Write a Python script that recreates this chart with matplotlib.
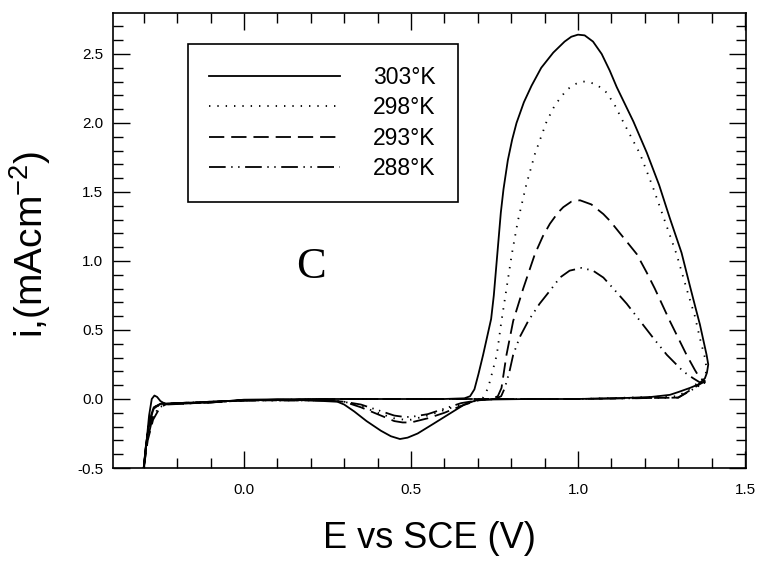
import numpy as np
import matplotlib
matplotlib.use('Agg')
from matplotlib import pyplot as plt
from matplotlib.ticker import MultipleLocator

plt.rcParams['font.family'] = ['Liberation Sans', 'DejaVu Sans']
plt.rcParams['mathtext.fontset'] = 'custom'
plt.rcParams['mathtext.rm'] = 'Liberation Sans'
plt.rcParams['lines.scale_dashes'] = False

labels = ['303\u00b0K', '298\u00b0K', '293\u00b0K', '288\u00b0K']

# anodic sweep, -0.3 V -> 1.39 V
e_fwd_303 = [-0.300, -0.292, -0.284, -0.276, -0.268, -0.260, -0.250, -0.236, -0.200, -0.150,
             -0.100, -0.050, 0.000, 0.200, 0.400, 0.600, 0.660, 0.677, 0.690, 0.702, 0.716,
             0.728, 0.740, 0.748, 0.755, 0.762, 0.769, 0.777, 0.790, 0.803, 0.816, 0.838,
             0.861, 0.890, 0.926, 0.960, 0.980, 1.000, 1.020, 1.045, 1.071, 1.095, 1.116,
             1.140, 1.166, 1.206, 1.243, 1.275, 1.310, 1.335, 1.352, 1.365, 1.375, 1.385,
             1.390, 1.386, 1.380]
i_fwd_303 = [-0.50, -0.32, -0.12, 0.00, 0.025, 0.015, -0.015, -0.035, -0.035, -0.03,
             -0.025, -0.015, -0.005, 0.0, 0.0, 0.0, 0.005, 0.02, 0.07, 0.18, 0.32,
             0.45, 0.58, 0.75, 0.95, 1.15, 1.35, 1.52, 1.73, 1.88, 2.00, 2.15,
             2.27, 2.40, 2.51, 2.59, 2.625, 2.64, 2.635, 2.59, 2.50, 2.38, 2.26,
             2.14, 2.01, 1.785, 1.55, 1.31, 1.06, 0.82, 0.66, 0.54, 0.43, 0.32,
             0.25, 0.19, 0.15]
# cathodic sweep back to -0.3 V
e_rev_303 = [1.380, 1.360, 1.335, 1.300, 1.275, 1.220, 1.150, 1.000, 0.850, 0.700, 0.660,
             0.620, 0.567, 0.520, 0.490, 0.467, 0.440, 0.410, 0.367, 0.330, 0.300, 0.280,
             0.200, 0.100, 0.000, -0.100, -0.200, -0.250, -0.270, -0.282, -0.290, -0.296, -0.300]
i_rev_303 = [0.150, 0.105, 0.080, 0.050, 0.030, 0.015, 0.008, 0.0, 0.0, -0.005, -0.04,
             -0.10, -0.18, -0.25, -0.28, -0.29, -0.27, -0.23, -0.16, -0.09, -0.04, -0.02,
             -0.01, -0.005, -0.01, -0.02, -0.03, -0.035, -0.06, -0.15, -0.28, -0.40, -0.50]

e_fwd_298 = [-0.300, -0.290, -0.280, -0.268, -0.250, -0.200, -0.100, 0.000, 0.300, 0.600,
             0.700, 0.716, 0.731, 0.742, 0.757, 0.770, 0.786, 0.802, 0.820, 0.845, 0.871,
             0.906, 0.931, 0.966, 0.990, 1.010, 1.026, 1.055, 1.086, 1.110, 1.135, 1.186,
             1.225, 1.260, 1.295, 1.325, 1.350, 1.365, 1.380, 1.385, 1.380]
i_fwd_298 = [-0.50, -0.30, -0.12, -0.05, -0.04, -0.035, -0.025, -0.01, 0.0, 0.0,
             0.0, 0.01, 0.08, 0.18, 0.32, 0.55, 0.80, 1.05, 1.29, 1.55, 1.775,
             2.01, 2.13, 2.24, 2.28, 2.30, 2.30, 2.28, 2.22, 2.13, 2.01, 1.775,
             1.53, 1.29, 1.05, 0.80, 0.60, 0.44, 0.30, 0.22, 0.15]
e_rev_298 = [1.380, 1.300, 1.000, 0.750, 0.700, 0.650, 0.600, 0.550, 0.500, 0.480, 0.450,
             0.400, 0.350, 0.300, 0.250, 0.000, -0.100, -0.200, -0.250, -0.270, -0.282,
             -0.292, -0.300]
i_rev_298 = [0.15, 0.02, 0.0, 0.0, -0.01, -0.04, -0.08, -0.12, -0.15, -0.15, -0.14,
             -0.10, -0.05, -0.02, -0.01, -0.01, -0.02, -0.03, -0.035, -0.06, -0.15,
             -0.30, -0.50]

e_fwd_293 = [-0.300, -0.288, -0.272, -0.251, -0.230, -0.100, 0.000, 0.300, 0.600, 0.740,
             0.760, 0.771, 0.786, 0.806, 0.836, 0.871, 0.895, 0.916, 0.940, 0.956, 0.980,
             1.006, 1.040, 1.076, 1.096, 1.136, 1.176, 1.205, 1.230, 1.275, 1.325, 1.350,
             1.365, 1.380]
i_fwd_293 = [-0.50, -0.30, -0.15, -0.06, -0.035, -0.025, -0.01, 0.0, 0.0, 0.0,
             0.02, 0.08, 0.32, 0.565, 0.80, 1.05, 1.18, 1.27, 1.35, 1.39, 1.43,
             1.44, 1.41, 1.34, 1.29, 1.17, 1.05, 0.92, 0.80, 0.565, 0.32, 0.21,
             0.15, 0.13]
e_rev_293 = [1.380, 1.300, 1.000, 0.750, 0.700, 0.650, 0.600, 0.550, 0.500, 0.475, 0.450,
             0.400, 0.350, 0.300, 0.250, 0.000, -0.100, -0.200, -0.250, -0.270, -0.284,
             -0.293, -0.300]
i_rev_293 = [0.13, 0.01, 0.0, 0.0, -0.01, -0.05, -0.10, -0.14, -0.17, -0.17, -0.16,
             -0.11, -0.06, -0.02, -0.01, -0.01, -0.02, -0.03, -0.035, -0.07, -0.18,
             -0.33, -0.50]

e_fwd_288 = [-0.300, -0.289, -0.274, -0.255, -0.230, -0.100, 0.000, 0.300, 0.600, 0.750,
             0.770, 0.781, 0.795, 0.806, 0.826, 0.851, 0.885, 0.921, 0.946, 0.975, 1.011,
             1.045, 1.076, 1.106, 1.146, 1.186, 1.226, 1.266, 1.315, 1.345, 1.365, 1.380]
i_fwd_288 = [-0.50, -0.30, -0.14, -0.06, -0.04, -0.025, -0.01, 0.0, 0.0, 0.0,
             0.02, 0.08, 0.20, 0.32, 0.45, 0.565, 0.69, 0.80, 0.88, 0.93, 0.95,
             0.93, 0.88, 0.80, 0.69, 0.565, 0.44, 0.32, 0.20, 0.15, 0.12, 0.12]
e_rev_288 = [1.380, 1.300, 1.000, 0.750, 0.700, 0.650, 0.600, 0.550, 0.500, 0.480, 0.450,
             0.400, 0.350, 0.300, 0.250, 0.000, -0.100, -0.200, -0.250, -0.272, -0.285,
             -0.294, -0.300]
i_rev_288 = [0.12, 0.01, 0.0, 0.0, -0.01, -0.03, -0.07, -0.11, -0.13, -0.13, -0.12,
             -0.08, -0.04, -0.02, -0.01, -0.01, -0.02, -0.03, -0.035, -0.08, -0.20,
             -0.35, -0.50]

curves = [
    (e_fwd_303 + e_rev_303, i_fwd_303 + i_rev_303, '-'),
    (e_fwd_298 + e_rev_298, i_fwd_298 + i_rev_298, (0, (1.0, 5.0))),
    (e_fwd_293 + e_rev_293, i_fwd_293 + i_rev_293, (0, (11.0, 5.0))),
    (e_fwd_288 + e_rev_288, i_fwd_288 + i_rev_288, (0, (12.0, 4.0, 1.0, 4.0, 1.0, 4.0))),
]

fig = plt.figure(figsize=(7.6, 5.61), dpi=100)
ax = fig.add_axes([113 / 760, 1 - 468 / 561, 633 / 760, 455 / 561])

for (e, i, ls), lab in zip(curves, labels):
    ax.plot(e, i, color='black', lw=1.3, linestyle=ls, label=lab, solid_joinstyle='round')

ax.set_xlim(-0.392, 1.503)
ax.set_ylim(-0.5, 2.797)
ax.xaxis.set_major_locator(MultipleLocator(0.5))
ax.xaxis.set_minor_locator(MultipleLocator(0.1))
ax.yaxis.set_major_locator(MultipleLocator(0.5))
ax.yaxis.set_minor_locator(MultipleLocator(0.1))
ax.tick_params(which='both', direction='in', top=True, right=True, width=1.0, colors='black')
ax.tick_params(which='major', length=12.5)
ax.tick_params(which='minor', length=7.5)
ax.tick_params(axis='x', labelsize=11, pad=11)
ax.tick_params(axis='y', labelsize=11, pad=7)
ax.set_xticks([0.0, 0.5, 1.0, 1.5])
ax.set_xticklabels(['0.0', '0.5', '1.0', '1.5'])
ax.set_yticks([-0.5, 0.0, 0.5, 1.0, 1.5, 2.0, 2.5])
ax.set_yticklabels(['-0.5', '0.0', '0.5', '1.0', '1.5', '2.0', '2.5'])
for sp in ax.spines.values():
    sp.set_linewidth(1.2)

leg = ax.legend(loc='upper left', bbox_to_anchor=(0.118, 0.932), borderaxespad=0,
                fontsize=16.5, handlelength=5.7, handletextpad=1.45, labelspacing=0.33,
                borderpad=0.95, fancybox=False, framealpha=1, edgecolor='black')
leg.get_frame().set_linewidth(1.2)

ax.text(0.202, 0.953, 'C', fontsize=32, family='Liberation Serif', ha='center', va='center')

fig.text(429 / 760, 1 - 538 / 561, 'E vs SCE (V)', fontsize=26, ha='center', va='center')
fig.text(30 / 760, 1 - 244 / 561, 'i,(mAcm$^{\\mathregular{-2}}$)', fontsize=28,
         rotation=90, ha='center', va='center')

fig.savefig('out.png', dpi=100)
